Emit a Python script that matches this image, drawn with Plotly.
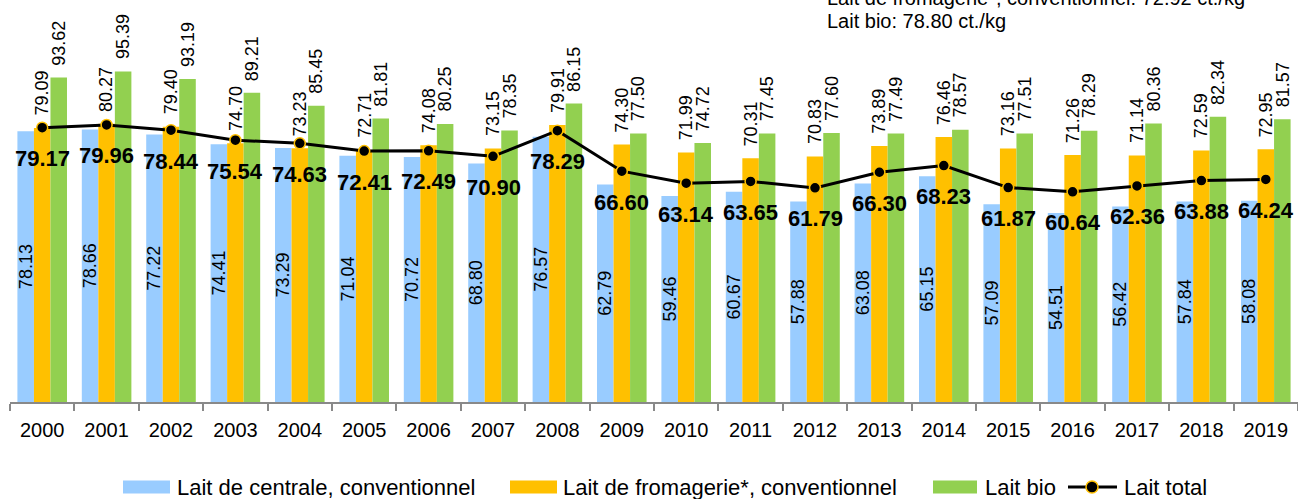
import plotly.graph_objects as go

years = [str(y) for y in range(2000, 2020)]
centrale = [78.13, 78.66, 77.22, 74.41, 73.29, 71.04, 70.72, 68.80, 76.57, 62.79,
            59.46, 60.67, 57.88, 63.08, 65.15, 57.09, 54.51, 56.42, 57.84, 58.08]
fromagerie = [79.09, 80.27, 79.40, 74.70, 73.23, 72.71, 74.08, 73.15, 79.91, 74.30,
              71.99, 70.31, 70.83, 73.89, 76.46, 73.16, 71.26, 71.14, 72.59, 72.95]
bio = [93.62, 95.39, 93.19, 89.21, 85.45, 81.81, 80.25, 78.35, 86.15, 77.50,
       74.72, 77.45, 77.60, 77.49, 78.57, 77.51, 78.29, 80.36, 82.34, 81.57]
total = [79.17, 79.96, 78.44, 75.54, 74.63, 72.41, 72.49, 70.90, 78.29, 66.60,
         63.14, 63.65, 61.79, 66.30, 68.23, 61.87, 60.64, 62.36, 63.88, 64.24]

series_names = ["Lait de centrale, conventionnel", "Lait de fromagerie*, conventionnel",
                "Lait bio", "Lait total"]
note_lines = ["Lait de fromagerie*, conventionnel: 72.92 ct./kg", "Lait bio: 78.80 ct./kg"]

FONT = "Liberation Sans, Arial, sans-serif"
C_BLUE = "#99CCFF"
C_ORANGE = "#FFC000"
C_GREEN = "#92D050"

W, H = 1298, 499
ML, MR, MT, MB = 10, 0, 0, 97
PW, PH = W - ML - MR, H - MT - MB


def px(x):
    return (x - ML) / PW


def py(y):
    return (H - MB - y) / PH


fig = go.Figure()
fig.add_trace(go.Bar(
    x=years, y=centrale, name=series_names[0],
    marker=dict(color=C_BLUE, line=dict(width=0)),
    texttemplate="%{y:.2f}", textposition="inside", insidetextanchor="middle",
    textangle=-90, constraintext="none",
    textfont=dict(family=FONT, size=18, color="black"),
))
fig.add_trace(go.Bar(
    x=years, y=fromagerie, name=series_names[1],
    marker=dict(color=C_ORANGE, line=dict(width=0)),
))
fig.add_trace(go.Bar(
    x=years, y=bio, name=series_names[2],
    marker=dict(color=C_GREEN, line=dict(width=0)),
))
fig.add_trace(go.Scatter(
    x=years, y=total, name=series_names[3], mode="lines+markers",
    line=dict(color="black", width=3),
    marker=dict(size=11, color="black", line=dict(color=C_ORANGE, width=1.5)),
))

annotations = []
bar_w = PW / 20 * 0.77 / 3
for i, v in enumerate(fromagerie):
    annotations.append(dict(x=i, y=v, xref="x", yref="y", text=f"{v:.2f}",
                            textangle=-90, showarrow=False, xanchor="center",
                            yanchor="bottom", yshift=10, xshift=0,
                            font=dict(family=FONT, size=18, color="black")))
for i, v in enumerate(bio):
    annotations.append(dict(x=i, y=v, xref="x", yref="y", text=f"{v:.2f}",
                            textangle=-90, showarrow=False, xanchor="center",
                            yanchor="bottom", yshift=10, xshift=bar_w,
                            font=dict(family=FONT, size=18, color="black")))
for i, v in enumerate(total):
    annotations.append(dict(x=i, y=v, xref="x", yref="y", text=f"<b>{v:.2f}</b>",
                            showarrow=False, xanchor="center", yanchor="middle",
                            yshift=-31,
                            font=dict(family=FONT, size=22, color="black")))
annotations.append(dict(x=px(825), y=py(-2), xref="paper", yref="paper",
                        text=note_lines[0], showarrow=False, xanchor="left",
                        yanchor="middle",
                        font=dict(family=FONT, size=20, color="black")))
annotations.append(dict(x=px(825), y=py(21), xref="paper", yref="paper",
                        text=note_lines[1], showarrow=False, xanchor="left",
                        yanchor="middle",
                        font=dict(family=FONT, size=20, color="black")))

# custom legend (wide swatches as in the reference)
shapes = []
LY = 487
legend_items = [
    (C_BLUE, 123, 170, 175, series_names[0]),
    (C_ORANGE, 510, 557, 561, series_names[1]),
    (C_GREEN, 933, 977, 983, series_names[2]),
]
for col, x0, x1, tx, name in legend_items:
    shapes.append(dict(type="rect", xref="paper", yref="paper",
                       x0=px(x0), x1=px(x1), y0=py(LY + 6.5), y1=py(LY - 6.5),
                       fillcolor=col, line=dict(width=0)))
    annotations.append(dict(x=px(tx), y=py(LY), xref="paper", yref="paper",
                            text=name, showarrow=False, xanchor="left",
                            yanchor="middle",
                            font=dict(family=FONT, size=22, color="black")))
shapes.append(dict(type="line", xref="paper", yref="paper",
                   x0=px(1068), x1=px(1117), y0=py(LY), y1=py(LY),
                   line=dict(color="black", width=3)))
shapes.append(dict(type="circle", xref="paper", yref="paper",
                   x0=px(1092 - 6), x1=px(1092 + 6), y0=py(LY + 6), y1=py(LY - 6),
                   fillcolor="black", line=dict(color=C_ORANGE, width=1.5)))
annotations.append(dict(x=px(1122), y=py(LY), xref="paper", yref="paper",
                        text=series_names[3], showarrow=False, xanchor="left",
                        yanchor="middle",
                        font=dict(family=FONT, size=22, color="black")))

fig.update_layout(
    width=W, height=H,
    margin=dict(l=ML, r=MR, t=MT, b=MB),
    paper_bgcolor="white", plot_bgcolor="white",
    barmode="group", bargap=0.23, bargroupgap=0,
    font=dict(family=FONT, size=19, color="black"),
    showlegend=False,
    annotations=annotations,
    shapes=shapes,
    xaxis=dict(type="category", range=[-0.5, 19.5], showline=True,
               linecolor="#898989", linewidth=1.5,
               ticks="outside", ticklen=7, tickcolor="#898989", tickwidth=1.5,
               tickson="boundaries", showgrid=False, tickangle=0,
               ticklabelstandoff=9,
               tickfont=dict(family=FONT, size=20, color="black")),
    yaxis=dict(range=[0, 116], visible=False, showgrid=False, zeroline=False),
)

fig.write_html("out.html", config={"displayModeBar": False},
               post_script="document.body.style.margin='0px';")
